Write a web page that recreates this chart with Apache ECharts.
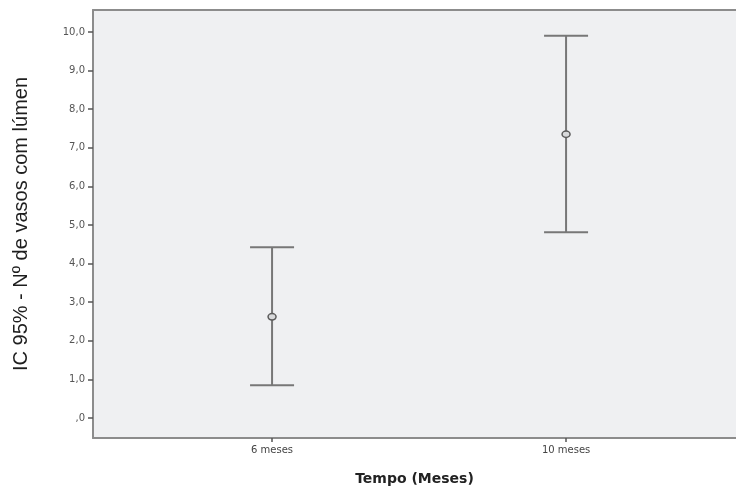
<!DOCTYPE html>
<html>
<head>
<meta charset="utf-8">
<script src="https://cdn.jsdelivr.net/npm/echarts@6/dist/echarts.min.js"></script>
<style>
  html, body { margin: 0; padding: 0; background: #fff; }
  #chart { width: 736px; height: 491px; }
</style>
</head>
<body>
<div id="chart"></div>
<script>
// intervalo de confiança 95%
var categories = ['6 meses', '10 meses'];
var means = [2.62, 7.35];
var lower = [0.85, 4.81];
var upper = [4.42, 9.90];
var yTicks = [0, 1, 2, 3, 4, 5, 6, 7, 8, 9, 10];

var myChart = echarts.init(document.getElementById('chart'));

var barData = categories.map(function (c, i) {
    return [i, lower[i], upper[i], means[i]];
});

var axisGray = '#8c8c8c';

var option = {
    animation: false,
    grid: {
        left: 93,
        top: 10,
        right: 0,
        bottom: 53,
        show: true,
        backgroundColor: '#eff0f2',
        borderWidth: 0
    },
    xAxis: [
        {
            type: 'value',
            min: -0.609,
            max: 1.578,
            name: 'Tempo (Meses)',
            nameLocation: 'middle',
            nameGap: 34,
            nameTextStyle: {
                fontFamily: 'DejaVu Sans',
                fontWeight: 'bold',
                fontSize: 14,
                color: '#222'
            },
            splitLine: { show: false },
            axisLine: { show: true, onZero: false, lineStyle: { color: axisGray, width: 2 } },
            axisTick: {
                show: true,
                length: 4,
                customValues: [0, 1],
                lineStyle: { color: '#555', width: 1.5 }
            },
            axisLabel: {
                customValues: [0, 1],
                margin: 7,
                fontSize: 10,
                fontFamily: 'DejaVu Sans',
                color: '#444',
                formatter: function (v) { return categories[Math.round(v)]; }
            }
        },
        {
            // borda superior
            type: 'value',
            position: 'top',
            min: -0.609,
            max: 1.578,
            splitLine: { show: false },
            axisLine: { show: true, onZero: false, lineStyle: { color: axisGray, width: 2 } },
            axisTick: { show: false },
            axisLabel: { show: false }
        }
    ],
    yAxis: {
        type: 'value',
        min: -0.52,
        max: 10.57,
        name: 'IC 95% - Nº de vasos com lúmen',
        nameLocation: 'middle',
        nameGap: 62,
        nameRotate: 90,
        nameTextStyle: {
            fontFamily: 'Liberation Sans, Arial',
            fontSize: 20,
            color: '#1e1e1e'
        },
        splitLine: { show: false },
        axisLine: { show: true, onZero: false, lineStyle: { color: axisGray, width: 2 } },
        axisTick: {
            show: true,
            length: 5,
            customValues: yTicks,
            lineStyle: { color: '#555', width: 1.5 }
        },
        axisLabel: {
            customValues: yTicks,
            margin: 8,
            fontSize: 10,
            fontFamily: 'DejaVu Sans',
            color: '#555',
            formatter: function (v) {
                return v === 0 ? ',0' : v.toFixed(1).replace('.', ',');
            }
        }
    },
    series: [
        {
            type: 'custom',
            data: barData,
            renderItem: function (params, api) {
                var x = api.value(0);
                var lo = api.coord([x, api.value(1)]);
                var hi = api.coord([x, api.value(2)]);
                var m = api.coord([x, api.value(3)]);
                var half = 22;
                var st = { stroke: '#777', lineWidth: 2 };
                return {
                    type: 'group',
                    children: [
                        { type: 'line', shape: { x1: hi[0], y1: hi[1], x2: lo[0], y2: lo[1] }, style: st },
                        { type: 'line', shape: { x1: hi[0] - half, y1: hi[1], x2: hi[0] + half, y2: hi[1] }, style: st },
                        { type: 'line', shape: { x1: lo[0] - half, y1: lo[1], x2: lo[0] + half, y2: lo[1] }, style: st },
                        { type: 'ellipse', shape: { cx: m[0], cy: m[1], rx: 4, ry: 3.2 },
                          style: { fill: '#d8d9db', stroke: '#5a5a5a', lineWidth: 1.5 } }
                    ]
                };
            }
        }
    ]
};
myChart.setOption(option);
</script>
</body>
</html>
